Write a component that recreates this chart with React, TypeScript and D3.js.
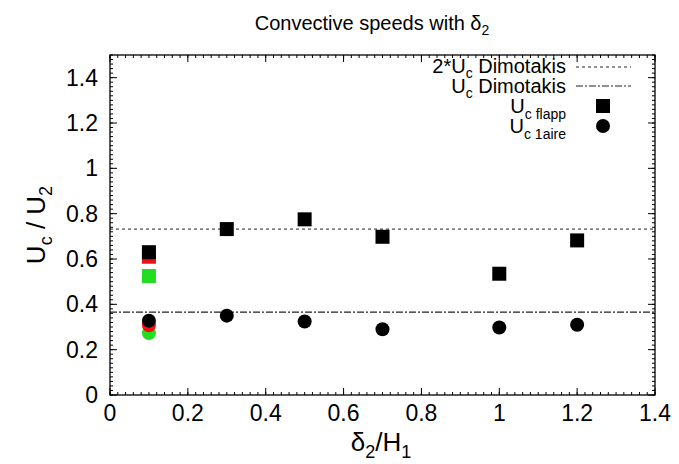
import React from "react";
import * as d3 from "d3";

const deltaRatio = [0.1, 0.3, 0.5, 0.7, 1.0, 1.2];
const ucFlapp = [0.63, 0.732, 0.775, 0.698, 0.535, 0.682];
const uc1aire = [0.328, 0.35, 0.324, 0.29, 0.298, 0.31];
const redX = [0.1];
const redFlapp = [0.61];
const red1aire = [0.308];
const greenX = [0.1];
const greenFlapp = [0.525];
const green1aire = [0.273];
const ucDimotakis = 0.366;
const xTicks = [0, 0.2, 0.4, 0.6, 0.8, 1, 1.2, 1.4];
const yTicks = [0, 0.2, 0.4, 0.6, 0.8, 1, 1.2, 1.4];

const W = 679, H = 464;
const m = { left: 110, right: 655, top: 55, bottom: 395 };
const FONT = "'Liberation Sans', Arial, Helvetica, sans-serif";

export default function App() {
  const x = d3.scaleLinear().domain([0, 1.4]).range([m.left, m.right]);
  const y = d3.scaleLinear().domain([0, 1.5]).range([m.bottom, m.top]);
  const minorX = d3.range(0, 1.4001, 0.02);
  const minorY = d3.range(0, 1.5001, 0.02);
  const sq = 14, r = 7;
  const tickFs = 23;

  const sqMarks = (xs: number[], ys: number[], color: string, key: string) =>
    xs.map((v, i) => (
      <rect key={key + i} x={x(v) - sq / 2} y={y(ys[i]) - sq / 2} width={sq} height={sq} fill={color} />
    ));
  const cMarks = (xs: number[], ys: number[], color: string, key: string) =>
    xs.map((v, i) => <circle key={key + i} cx={x(v)} cy={y(ys[i])} r={r} fill={color} />);

  const txt = (cx: number, cy: number, anchor: string, content: React.ReactNode, fs: number, key?: string) => (
    <text key={key} x={cx} y={cy} textAnchor={anchor} fontSize={fs} fontFamily={FONT} fill="#000">
      {content}
    </text>
  );

  return (
    <div style={{ position: "absolute", left: 0, top: 0 }}>
      <svg width={W} height={H} style={{ display: "block", background: "#fff" }}>
        <rect width={W} height={H} fill="#fff" />
        {/* title */}
        {txt(372, 30, "middle", <>Convective speeds with δ<tspan dy={5} fontSize={14}>2</tspan></>, 20)}

        {/* reference lines */}
        <line x1={m.left} x2={m.right} y1={y(2 * ucDimotakis)} y2={y(2 * ucDimotakis)} stroke="#222" strokeWidth={1} strokeDasharray="3,3" />
        <line x1={m.left} x2={m.right} y1={y(ucDimotakis)} y2={y(ucDimotakis)} stroke="#222" strokeWidth={1.2} strokeDasharray="7,2,2,2" />

        {/* minor ticks */}
        {minorX.map((v, i) => (
          <g key={"mx" + i}>
            <line x1={x(v)} x2={x(v)} y1={m.bottom} y2={m.bottom - 3} stroke="#000" />
            <line x1={x(v)} x2={x(v)} y1={m.top} y2={m.top + 3} stroke="#000" />
          </g>
        ))}
        {minorY.map((v, i) => (
          <g key={"my" + i}>
            <line x1={m.left} x2={m.left + 3} y1={y(v)} y2={y(v)} stroke="#000" />
            <line x1={m.right} x2={m.right - 3} y1={y(v)} y2={y(v)} stroke="#000" />
          </g>
        ))}
        {/* major ticks */}
        {xTicks.map((v, i) => (
          <g key={"Mx" + i}>
            <line x1={x(v)} x2={x(v)} y1={m.bottom} y2={m.bottom - 7} stroke="#000" />
            <line x1={x(v)} x2={x(v)} y1={m.top} y2={m.top + 7} stroke="#000" />
          </g>
        ))}
        {yTicks.map((v, i) => (
          <g key={"My" + i}>
            <line x1={m.left} x2={m.left + 7} y1={y(v)} y2={y(v)} stroke="#000" />
            <line x1={m.right} x2={m.right - 7} y1={y(v)} y2={y(v)} stroke="#000" />
          </g>
        ))}
        <rect x={m.left} y={m.top} width={m.right - m.left} height={m.bottom - m.top} fill="none" stroke="#000" strokeWidth={1.3} />

        {/* tick labels */}
        {xTicks.map((v, i) => txt(x(v), 421, "middle", d3.format("~g")(v), tickFs, "xl" + i))}
        {yTicks.map((v, i) => txt(98, y(v) + 8, "end", d3.format("~g")(v), tickFs, "yl" + i))}

        {/* axis labels */}
        {txt(381, 451, "middle", <>δ<tspan dy={7} fontSize={18}>2</tspan><tspan dy={-7}>/H</tspan><tspan dy={7} fontSize={18}>1</tspan></>, 26)}
        <g transform={`translate(45,${(m.top + m.bottom) / 2}) rotate(-90)`}>
          <text textAnchor="middle" fontSize={26} fontFamily={FONT} fill="#000">
            U<tspan dy={7} fontSize={18}>c</tspan><tspan dy={-7}> / U</tspan><tspan dy={7} fontSize={18}>2</tspan>
          </text>
        </g>

        {/* markers */}
        {sqMarks(greenX, greenFlapp, "#22dd22", "gs")}
        {sqMarks(redX, redFlapp, "#ee1111", "rs")}
        {sqMarks(deltaRatio, ucFlapp, "#000", "bs")}
        {cMarks(greenX, green1aire, "#22dd22", "gc")}
        {cMarks(redX, red1aire, "#ee1111", "rc")}
        {cMarks(deltaRatio, uc1aire, "#000", "bc")}

        {/* legend */}
        {txt(566, 73, "end", <>2*U<tspan dy={5} fontSize={14}>c</tspan><tspan dy={-5}> Dimotakis</tspan></>, 20, "lg1")}
        <line x1={576} x2={631} y1={67} y2={67} stroke="#222" strokeDasharray="3,3" />
        {txt(566, 93, "end", <>U<tspan dy={5} fontSize={14}>c</tspan><tspan dy={-5}> Dimotakis</tspan></>, 20, "lg2")}
        <line x1={576} x2={631} y1={86} y2={86} stroke="#222" strokeWidth={1.2} strokeDasharray="7,2,2,2" />
        {txt(566, 113, "end", <>U<tspan dy={6} fontSize={14}>c flapp</tspan></>, 20, "lg3")}
        <rect x={603 - sq / 2} y={106 - sq / 2} width={sq} height={sq} fill="#000" />
        {txt(566, 133, "end", <>U<tspan dy={6} fontSize={14}>c 1aire</tspan></>, 20, "lg4")}
        <circle cx={603} cy={126} r={r} fill="#000" />
      </svg>
    </div>
  );
}
